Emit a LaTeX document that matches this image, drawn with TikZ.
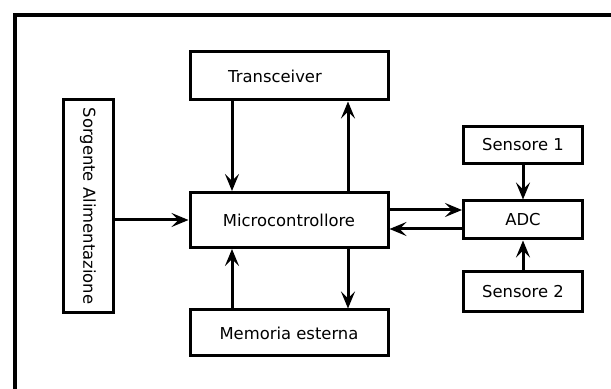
\documentclass[tikz,border=0pt]{standalone}
\usepackage{fontspec}
\setmainfont{DejaVu Sans}
\usetikzlibrary{arrows.meta,positioning}

\begin{document}
\begin{tikzpicture}[x=0.5pt,y=-0.5pt,
        blk/.style={rectangle,draw,line width=1.5pt,fill=white,inner sep=0pt,
                    font=\fontsize{8.2}{9}\selectfont},
        conn/.style={-{Stealth[length=8.5pt,width=7pt,inset=3.5pt]},line width=1.5pt}]

        \useasboundingbox (0,0) rectangle (611,389);
        \draw[line width=2.2pt] (15,15) rectangle (630,410);

        \node[blk,minimum width=99pt,minimum height=24pt]   (trx) at (289,76)  {Transceiver\hspace*{14pt}};
        \node[blk,minimum width=99pt,minimum height=27.5pt] (mcu) at (289,220) {Microcontrollore};
        \node[blk,minimum width=99pt,minimum height=23pt]   (mem) at (289,333) {Memoria esterna};
        \node[blk,rotate=-90,minimum width=106.5pt,minimum height=25pt]
              (psu) at (88,206) {Sorgente Alimentazione};
        \node[blk,minimum width=59.5pt,minimum height=18.5pt] (sen1) at (523,145) {Sensore 1};
        \node[blk,minimum width=59.5pt,minimum height=19pt]   (adc)  at (523,220) {ADC};
        \node[blk,minimum width=59.5pt,minimum height=20pt]   (sen2) at (523,292) {Sensore 2};

        \draw[conn] ([xshift=-28.5pt]trx.south) -- ([xshift=-28.5pt]mcu.north);
        \draw[conn] ([xshift=29.5pt]mcu.north)  -- ([xshift=29.5pt]trx.south);
        \draw[conn] ([xshift=-28.5pt]mem.north) -- ([xshift=-28.5pt]mcu.south);
        \draw[conn] ([xshift=29.5pt]mcu.south)  -- ([xshift=29.5pt]mem.north);
        \draw[conn] (psu.north |- mcu.west) -- (mcu.west);
        \draw[conn] ([yshift=5pt]mcu.east) -- ([yshift=5pt]adc.west);
        \draw[conn] ([yshift=-4.5pt]adc.west) -- ([yshift=-4.5pt]mcu.east);
        \draw[conn] (sen1.south) -- (adc.north);
        \draw[conn] (sen2.north) -- (adc.south);

    \end{tikzpicture}
\end{document}
